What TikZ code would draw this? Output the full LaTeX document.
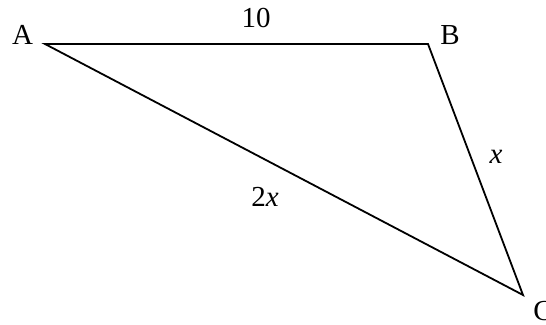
\documentclass[tikz,border=0pt]{standalone}
\usepackage{fontspec}
\setmainfont{Liberation Serif}
\begin{document}
\begin{tikzpicture}[x=1pt,y=-1pt,
  lbl/.style={inner sep=0pt,font=\fontsize{29}{32}\selectfont},
  edge/.style={line width=1.8pt,line join=miter}]
\useasboundingbox (0,0) rectangle (546,324);
\coordinate (A) at (45,44);
\coordinate (B) at (428,44);
\coordinate (C) at (523,295);
\draw[edge] (A) -- (B) -- (C) -- cycle;
\node[lbl] (la) at (22.5,35) {A};
\node[lbl] (lb) at (450,35) {B};
\node[lbl] (lc) at (543,311) {C};
\node[lbl] (l10) at (256,18) {10};
\node[lbl] (l2x) at (265,197) {2\textit{x}};
\node[lbl] (lx) at (496,157) {\textit{x}};
\end{tikzpicture}
\end{document}
